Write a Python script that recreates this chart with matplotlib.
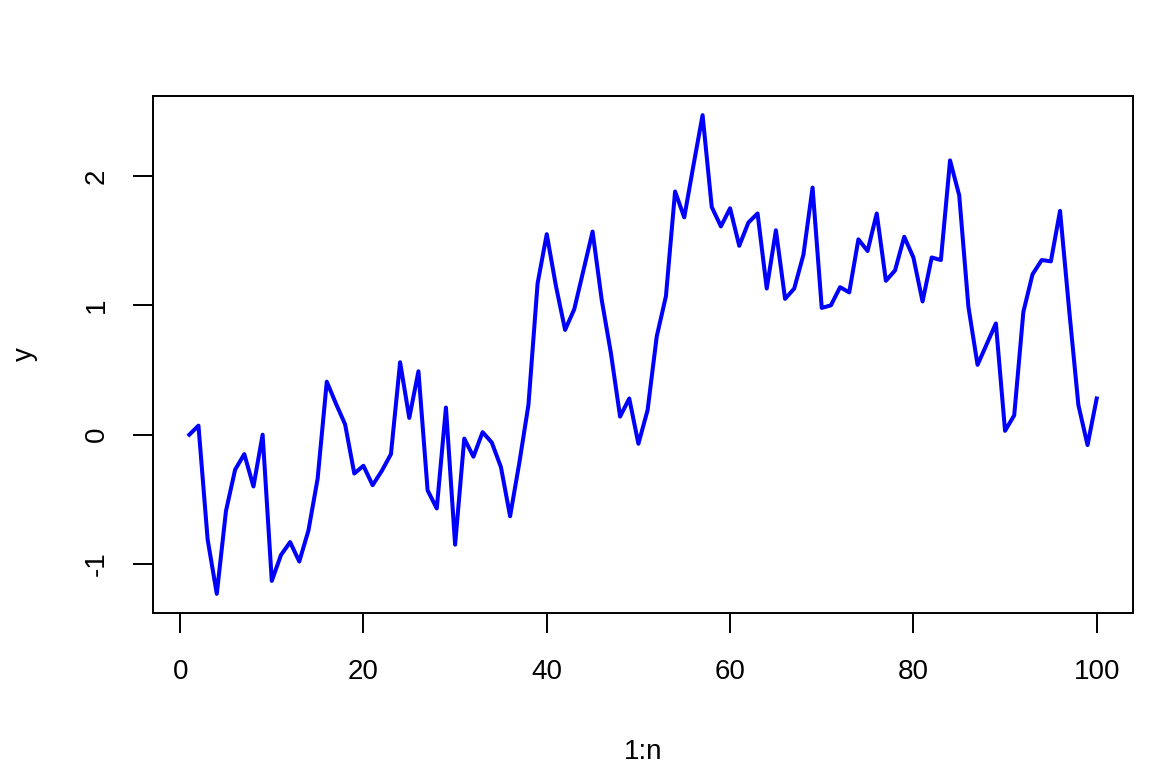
import numpy as np
import matplotlib
matplotlib.use('Agg')
from matplotlib import pyplot as plt

y = [0.00, 0.07, -0.81, -1.23, -0.59, -0.27, -0.15, -0.40, 0.00, -1.13,
     -0.93, -0.83, -0.98, -0.74, -0.34, 0.41, 0.24, 0.08, -0.30, -0.24,
     -0.39, -0.28, -0.15, 0.56, 0.13, 0.49, -0.43, -0.57, 0.21, -0.85,
     -0.03, -0.17, 0.02, -0.06, -0.25, -0.63, -0.22, 0.23, 1.17, 1.55,
     1.15, 0.81, 0.97, 1.27, 1.57, 1.04, 0.63, 0.14, 0.28, -0.07,
     0.19, 0.76, 1.07, 1.88, 1.68, 2.08, 2.47, 1.76, 1.61, 1.75,
     1.46, 1.64, 1.71, 1.13, 1.58, 1.05, 1.13, 1.39, 1.91, 0.98,
     1.00, 1.14, 1.10, 1.51, 1.42, 1.71, 1.19, 1.27, 1.53, 1.37,
     1.03, 1.37, 1.35, 2.12, 1.85, 0.99, 0.54, 0.70, 0.86, 0.03,
     0.15, 0.95, 1.24, 1.35, 1.34, 1.73, 0.96, 0.23, -0.08, 0.28]
n = len(y)
x = np.arange(1, n + 1)
xticks = [0, 20, 40, 60, 80, 100]
yticks = [-1, 0, 1, 2]

plt.rcParams['font.family'] = ['Liberation Sans', 'DejaVu Sans']

fig = plt.figure(figsize=(11.52, 7.68), dpi=100)
ax = fig.add_axes([153 / 1152, 1 - 613 / 768, 980 / 1152, 517 / 768])
ax.plot(x, y, color='blue', linewidth=2.9)

# R style 4% padding
xr = n - 1
ax.set_xlim(1 - 0.04 * xr, n + 0.04 * xr)
yr = max(y) - min(y)
ax.set_ylim(min(y) - 0.04 * yr, max(y) + 0.04 * yr)

ax.set_xticks(xticks)
ax.set_yticks(yticks)
ax.set_xticklabels([str(t) for t in xticks], fontsize=20)
ax.set_yticklabels([str(t) for t in yticks], fontsize=20, rotation=90, va='center')
ax.tick_params(axis='x', length=14.4, width=1.4, pad=19)
ax.tick_params(axis='y', length=14.4, width=1.4, pad=17)
for s in ax.spines.values():
    s.set_linewidth(1.4)

fig.text(643 / 1152, 1 - 752 / 768, '1:n', fontsize=20, ha='center', va='center')
fig.text(25 / 1152, 1 - 354 / 768, 'y', fontsize=20, ha='center', va='center', rotation=90)

plt.savefig('out.png', dpi=100)
